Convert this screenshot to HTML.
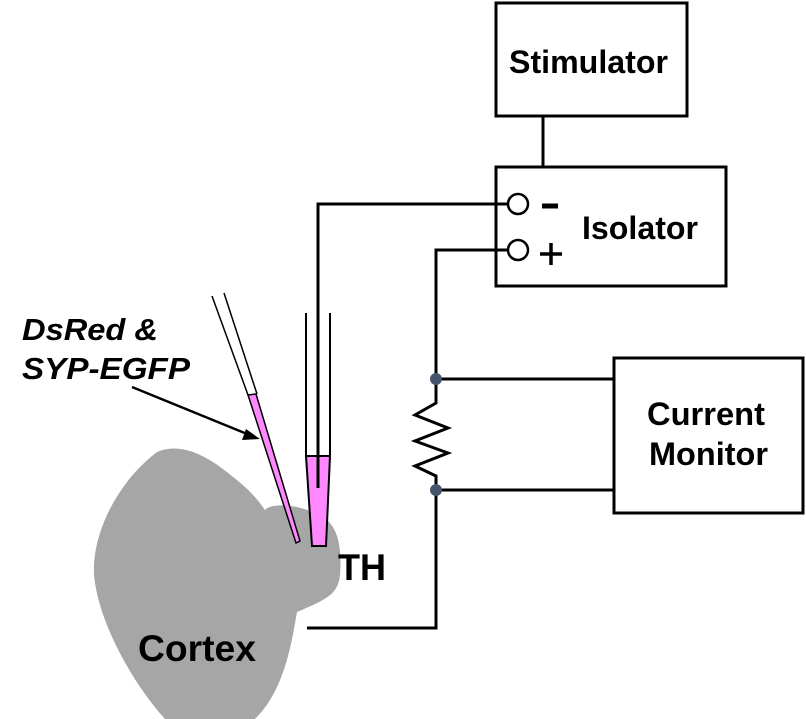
<!DOCTYPE html>
<html><head><style>body{margin:0;background:#fff}svg{display:block}text{font-family:"Liberation Sans",Arial,sans-serif;font-weight:bold;fill:#000}</style></head>
<body>
<svg width="806" height="719" viewBox="0 0 806 719" xmlns="http://www.w3.org/2000/svg">
<path d="M157,452 C185,440 215,462 233,477 C250,490 258,500 265,510 C272,502 300,505 320,515 C338,525 342,545 340,575 C338,595 325,600 297,612 C292,640 285,690 255,719 L165,719 C130,680 98,620 94,575 C92,530 120,480 157,452 Z" fill="#a6a6a6"/>
<g fill="none" stroke="#000" stroke-width="3">
<rect x="496" y="3" width="191" height="113"/>
<rect x="496" y="167" width="230" height="119"/>
<rect x="614" y="358" width="189" height="155"/>
<line x1="543" y1="116" x2="543" y2="167"/>
<polyline points="508,204 318,204 318,488"/>
<polyline points="508,250 436,250 436,403 415,415 448,428 415,441 448,453 415,466 436,476 436,628 307,628"/>
<line x1="436" y1="379" x2="614" y2="379"/>
<line x1="436" y1="490" x2="614" y2="490"/>
<circle cx="518" cy="204" r="10" stroke-width="2.5"/>
<circle cx="518" cy="250" r="10" stroke-width="2.5"/>
</g>
<line x1="542" y1="206" x2="558" y2="206" stroke="#000" stroke-width="5"/>
<line x1="540" y1="254" x2="562" y2="254" stroke="#000" stroke-width="3.5"/>
<line x1="551" y1="243" x2="551" y2="265" stroke="#000" stroke-width="3.5"/>
<circle cx="436" cy="379" r="6" fill="#44546a"/>
<circle cx="436" cy="490" r="6" fill="#44546a"/>
<polygon points="306,456 330,456 326,546 312,546" fill="#ff88ff" stroke="#000" stroke-width="2"/>
<line x1="306" y1="313" x2="306" y2="456" stroke="#000" stroke-width="2"/>
<line x1="330" y1="313" x2="330" y2="456" stroke="#000" stroke-width="2"/>
<line x1="318" y1="456" x2="318" y2="488" stroke="#000" stroke-width="3"/>
<polygon points="248,395 256,394 300,541 296,543" fill="#ff88ff" stroke="#000" stroke-width="1.5"/>
<line x1="212" y1="296" x2="248" y2="395" stroke="#000" stroke-width="1.5"/>
<line x1="224" y1="293" x2="257" y2="394" stroke="#000" stroke-width="1.5"/>
<line x1="132" y1="387" x2="252" y2="436" stroke="#000" stroke-width="2.5"/>
<polygon points="260,439 246,429 242,440" fill="#000"/>
<text x="509" y="73" font-size="32" textLength="159" lengthAdjust="spacingAndGlyphs">Stimulator</text>
<text x="582" y="239" font-size="32" textLength="116" lengthAdjust="spacingAndGlyphs">Isolator</text>
<text x="647" y="425" font-size="32" textLength="118" lengthAdjust="spacingAndGlyphs">Current</text>
<text x="649" y="465" font-size="32" textLength="119" lengthAdjust="spacingAndGlyphs">Monitor</text>
<text x="338" y="580" font-size="37" textLength="48" lengthAdjust="spacingAndGlyphs">TH</text>
<text x="138" y="661" font-size="37" textLength="118" lengthAdjust="spacingAndGlyphs">Cortex</text>
<text x="22" y="340" font-size="31" font-style="italic" textLength="136" lengthAdjust="spacingAndGlyphs">DsRed &amp;</text>
<text x="22" y="379" font-size="31" font-style="italic" textLength="168" lengthAdjust="spacingAndGlyphs">SYP-EGFP</text>
</svg>
</body></html>
